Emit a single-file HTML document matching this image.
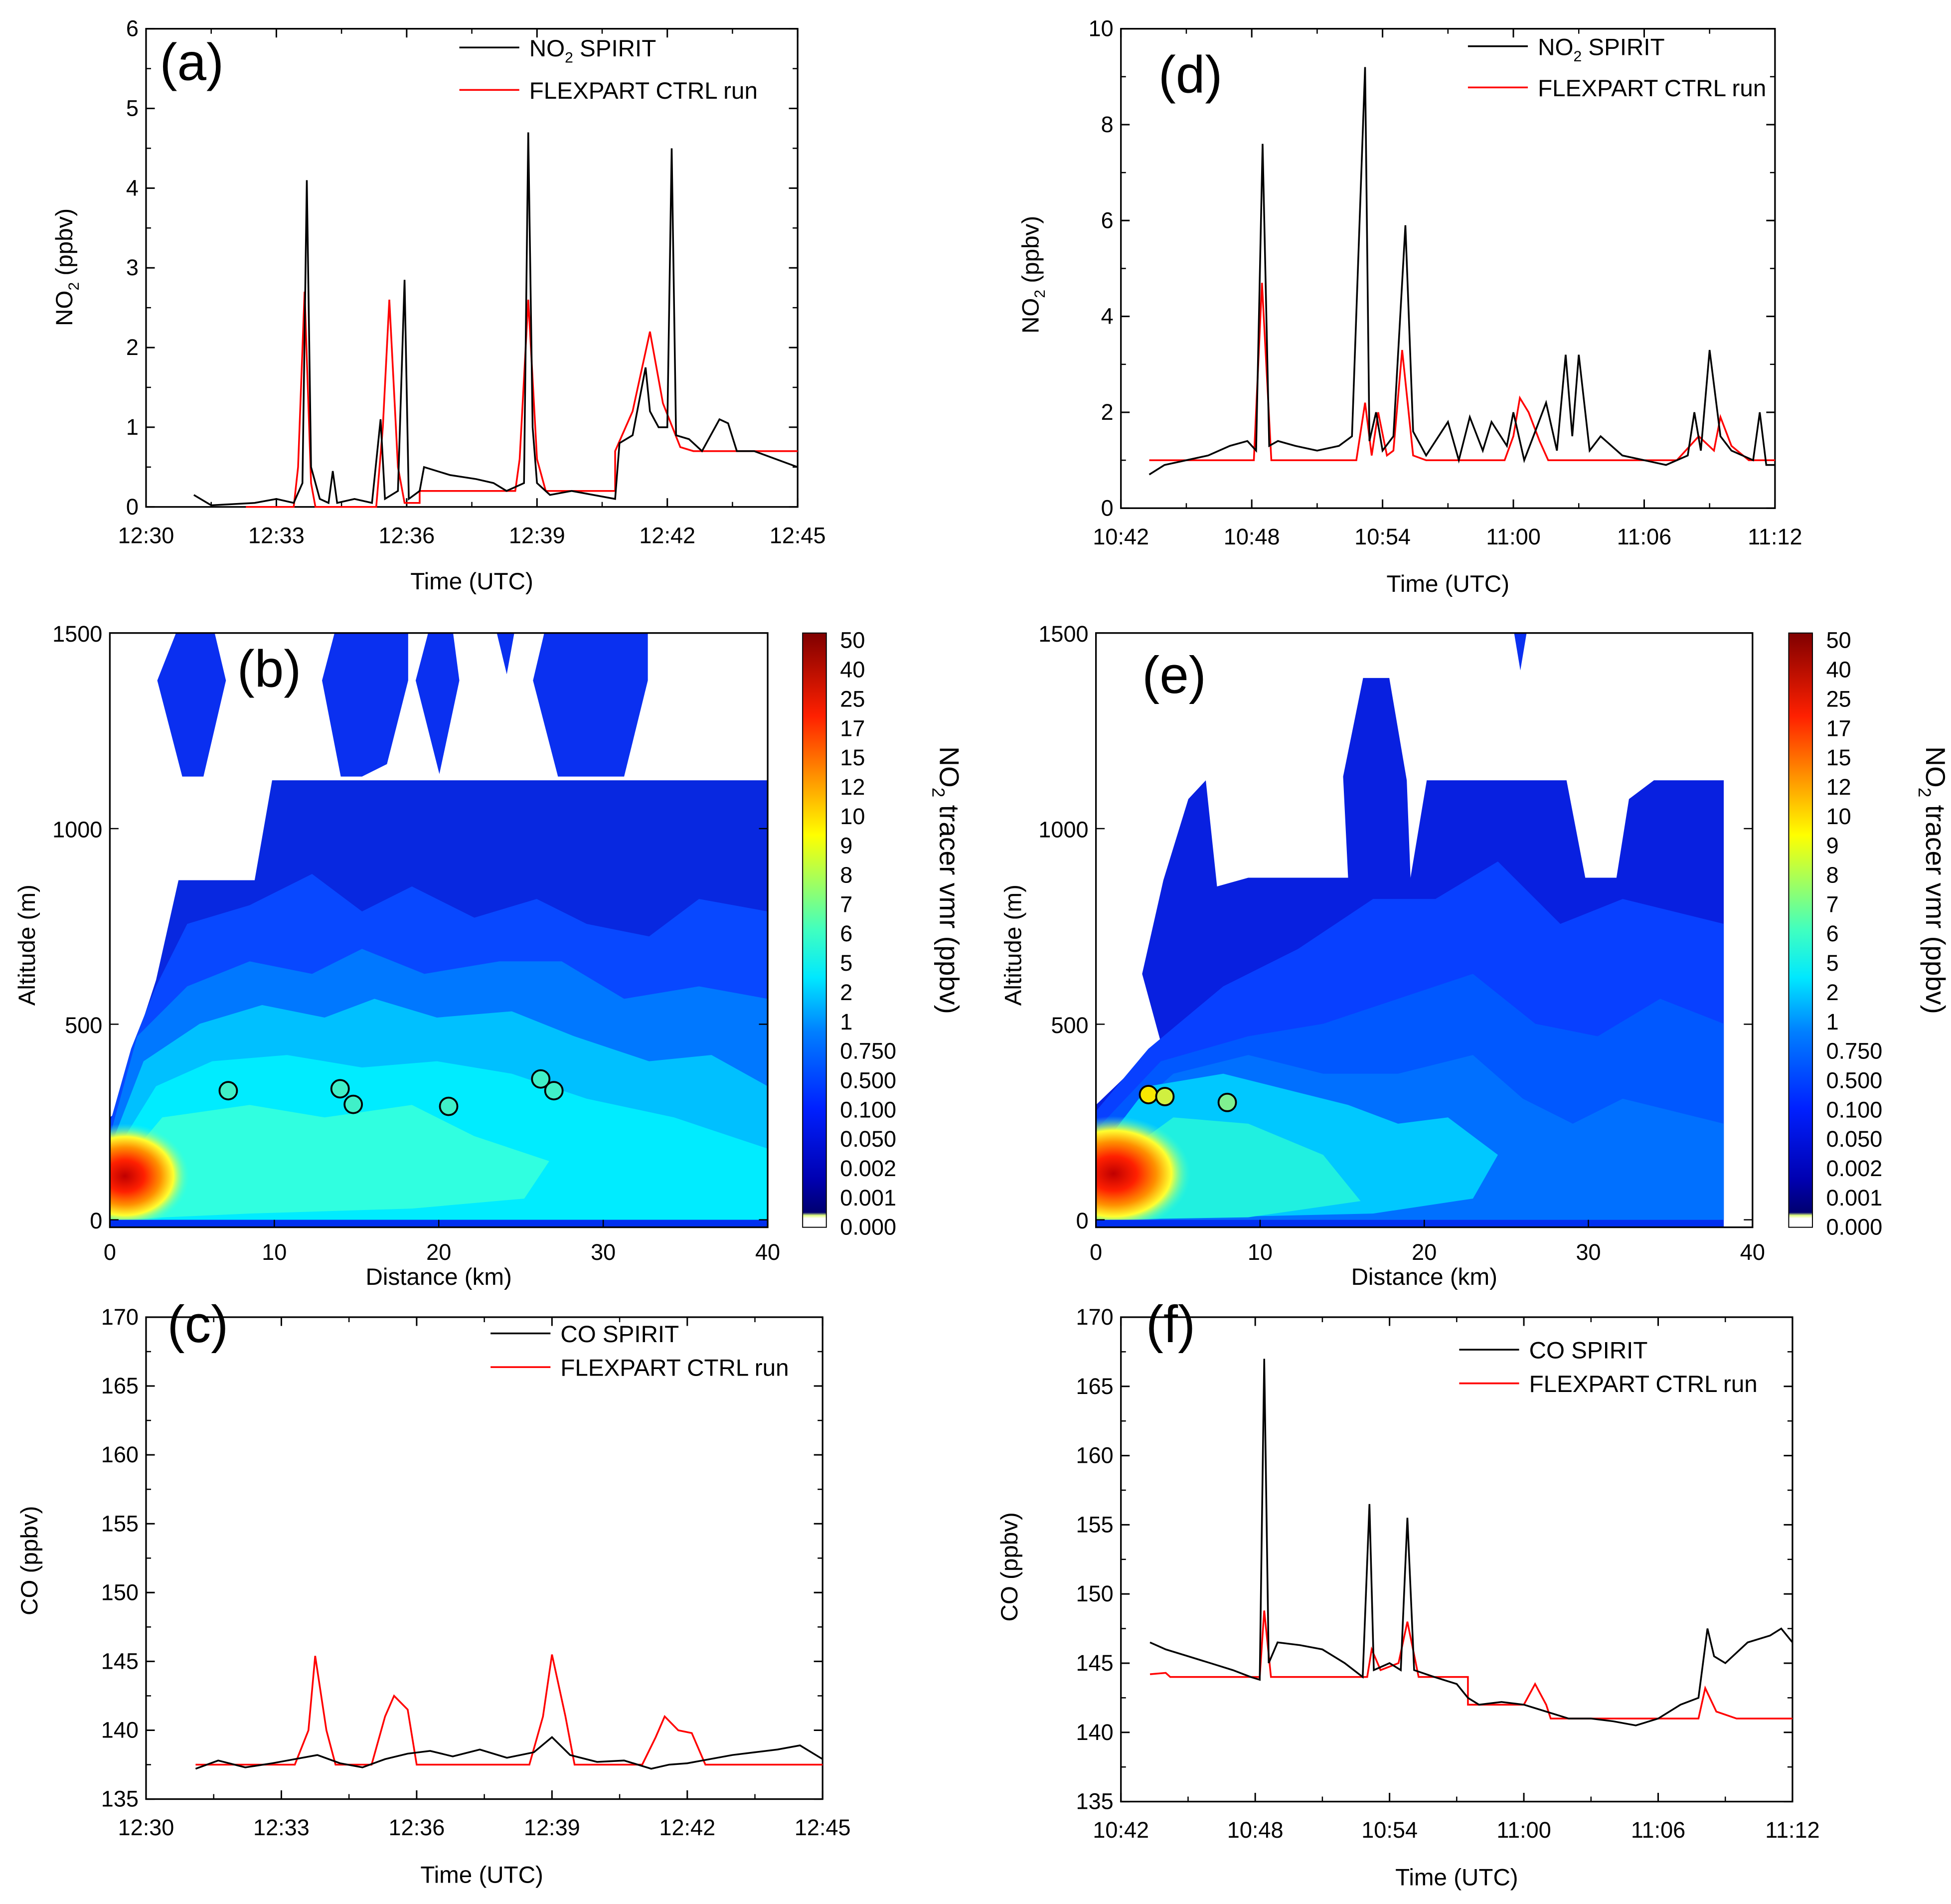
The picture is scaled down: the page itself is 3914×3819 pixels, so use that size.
<!DOCTYPE html>
<html><head><meta charset="utf-8">
<style>
html,body{margin:0;padding:0;background:#fff}
svg{display:block}
text{font-family:"Liberation Sans","DejaVu Sans",sans-serif;fill:#000}
</style></head>
<body>
<svg id="root" xmlns="http://www.w3.org/2000/svg" width="3914" height="3819" viewBox="0 0 1563 1525">
<defs>
<linearGradient id="cbar" x1="0" y1="1" x2="0" y2="0">
<stop offset="0" stop-color="#ffffff"/><stop offset="0.015" stop-color="#ffffff"/>
<stop offset="0.02" stop-color="#e0ff80"/><stop offset="0.025" stop-color="#000070"/>
<stop offset="0.08" stop-color="#0000b0"/><stop offset="0.2" stop-color="#0020ff"/>
<stop offset="0.33" stop-color="#0080ff"/><stop offset="0.42" stop-color="#00e8ff"/>
<stop offset="0.5" stop-color="#40ffc0"/><stop offset="0.58" stop-color="#a0ff60"/>
<stop offset="0.66" stop-color="#ffff00"/><stop offset="0.76" stop-color="#ff9000"/>
<stop offset="0.86" stop-color="#ff2000"/><stop offset="1" stop-color="#800000"/>
</linearGradient>
<radialGradient id="hot">
<stop offset="0" stop-color="#c00000"/><stop offset="0.3" stop-color="#ff2000"/>
<stop offset="0.55" stop-color="#ff9000"/><stop offset="0.75" stop-color="#ffff30"/>
<stop offset="1" stop-color="#40ffd0" stop-opacity="0"/>
</radialGradient>
<clipPath id="clipB"><rect x="88" y="507" width="527" height="476"/></clipPath>
<clipPath id="clipE"><rect x="878" y="507" width="503" height="476"/></clipPath>
</defs>
</svg>
<script>
// ---------- data ----------
const aSpiritT=[1.1,1.5,2.5,3.0,3.4,3.6,3.7,3.8,4.0,4.2,4.3,4.4,4.8,5.2,5.4,5.5,5.8,5.95,6.05,6.3,6.4,7,7.6,8,8.3,8.7,8.8,8.9,9.0,9.3,9.8,10.3,10.8,10.9,11.2,11.5,11.6,11.8,12.0,12.1,12.2,12.5,12.8,13.2,13.4,13.6,14,14.5,15];
const aSpiritV=[0.15,0.02,0.05,0.1,0.05,0.3,4.1,0.5,0.1,0.05,0.45,0.05,0.1,0.05,1.1,0.1,0.2,2.85,0.1,0.2,0.5,0.4,0.35,0.3,0.2,0.3,4.7,1.0,0.3,0.15,0.2,0.15,0.1,0.8,0.9,1.75,1.2,1.0,1.0,4.5,0.9,0.85,0.7,1.1,1.05,0.7,0.7,0.6,0.5];
const aFlexT=[2.3,3.4,3.5,3.65,3.8,3.9,5.3,5.45,5.6,5.8,5.95,6.3,6.3,8.5,8.6,8.8,9.0,9.2,10.8,10.8,11.2,11.6,11.9,12.3,12.6,15];
const aFlexV=[0,0,0.5,2.7,0.3,0,0,1.0,2.6,0.5,0.05,0.05,0.2,0.2,0.6,2.6,0.6,0.2,0.2,0.7,1.2,2.2,1.3,0.75,0.7,0.7];
const dSpiritT=[1.3,2,3,4,5,5.8,6.2,6.5,6.8,7.2,8,9,10,10.6,11.2,11.4,11.7,12,12.5,13.05,13.4,14,15,15.5,16,16.6,17,17.7,18,18.5,19,19.5,20,20.4,20.7,21,21.5,22,23,24,25,26,26.3,26.6,27,27.5,28,29,29.3,29.6,30];
const dSpiritV=[0.7,0.9,1.0,1.1,1.3,1.4,1.2,7.6,1.3,1.4,1.3,1.2,1.3,1.5,9.2,1.4,2.0,1.2,1.5,5.9,1.6,1.1,1.8,1.0,1.9,1.2,1.8,1.3,2.0,1.0,1.6,2.2,1.2,3.2,1.5,3.2,1.2,1.5,1.1,1.0,0.9,1.1,2.0,1.2,3.3,1.5,1.2,1.0,2.0,0.9,0.9];
const dFlexT=[1.3,6.1,6.47,6.9,10.8,11.2,11.5,11.8,12.2,12.5,12.9,13.4,14,17.6,18.0,18.3,18.7,19.2,19.6,20.2,25.5,26.5,27.2,27.5,28,28.8,30];
const dFlexV=[1.0,1.0,4.7,1.0,1.0,2.2,1.1,2.0,1.1,1.2,3.3,1.1,1.0,1.0,1.5,2.3,2.0,1.4,1.0,1.0,1.0,1.5,1.2,1.9,1.3,1.0,1.0];
const cSpiritT=[1.1,1.6,2.2,2.8,3.3,3.8,4.3,4.8,5.3,5.8,6.3,6.8,7.4,8,8.6,9.0,9.4,10,10.6,11.2,11.6,12,12.5,13,13.5,14,14.5,15];
const cSpiritV=[137.2,137.8,137.3,137.6,137.9,138.2,137.6,137.3,137.9,138.3,138.5,138.1,138.6,138.0,138.4,139.5,138.2,137.7,137.8,137.2,137.5,137.6,137.9,138.2,138.4,138.6,138.9,137.9];
const cFlexT=[1.1,3.3,3.6,3.75,4.0,4.2,5.0,5.3,5.5,5.8,6.0,8.5,8.8,9.0,9.3,9.5,11.0,11.3,11.5,11.8,12.1,12.4,15];
const cFlexV=[137.5,137.5,140,145.4,140,137.5,137.5,141,142.5,141.5,137.5,137.5,141,145.5,141,137.5,137.5,139.5,141,140,139.8,137.5,137.5];
const fSpiritT=[1.3,2,3,4,5,5.8,6.2,6.4,6.6,7,8,9,10,10.8,11.1,11.3,12,12.5,12.8,13.1,14,15,15.5,16,17,18,19,20,21,22,23,24,25,25.8,26.2,26.5,27,28,29,29.5,30];
const fSpiritV=[146.5,146,145.5,145,144.5,144,143.8,167,145,146.5,146.3,146.0,145.0,144,156.5,144.5,145,144.5,155.5,144.5,144,143.5,142.5,142,142.2,142,141.5,141,141,140.8,140.5,141,142,142.5,147.5,145.5,145,146.5,147,147.5,146.5];
const fFlexT=[1.3,2,2.2,6.2,6.4,6.7,11,11.2,11.6,12.4,12.8,13.3,15.5,15.5,18,18.5,19,19.2,25.8,26.1,26.6,27.5,30];
const fFlexV=[144.2,144.3,144,144,148.8,144,144,146,144.5,145,148,144,144,142,142,143.5,142,141,141,143.2,141.5,141,141];
const cbarLabels=["50","40","25","17","15","12","10","9","8","7","6","5","2","1","0.750","0.500","0.100","0.050","0.002","0.001","0.000"];
const bCircleKm=[7.2,14,14.8,20.6,26.2,27];
const bCircleAlt=[330,335,295,290,360,330];
const eCircleKm=[3.2,4.2,8];
const eCircleAlt=[320,315,300];
const eCircleColor=["#f8e800","#d0f040","#80f090"];

// ---------- helpers ----------
const NS="http://www.w3.org/2000/svg";
const root=document.getElementById('root');
function el(tag,attrs,parent,txt){const e=document.createElementNS(NS,tag);for(const k in attrs)e.setAttribute(k,attrs[k]);if(txt!==undefined)e.textContent=txt;(parent||root).appendChild(e);return e;}
function group(name){const g=el('g',{},root);return g;}
function scale(d0,d1,r0,r1){return v=>r0+(v-d0)*(r1-r0)/(d1-d0);}

function axes(g,X,Y,x0,x1,y0,y1,xt,xl,yt,yl,minorX,minorY){
  const f=el('rect',{x:x0,y:y1,width:x1-x0,height:y0-y1,fill:'none',stroke:'#000','stroke-width':1.3},g);
  
  xt.forEach((v,i)=>{const x=X(v);el('line',{x1:x,x2:x,y1:y0,y2:y0-7,stroke:'#000','stroke-width':1.2},g);el('line',{x1:x,x2:x,y1:y1,y2:y1+7,stroke:'#000','stroke-width':1.2},g);
    const t=el('text',{x:x,y:y0+29,'font-size':18,'text-anchor':'middle'},g,xl[i]);});
  (minorX||[]).forEach(v=>{const x=X(v);el('line',{x1:x,x2:x,y1:y0,y2:y0-4,stroke:'#000'},g);el('line',{x1:x,x2:x,y1:y1,y2:y1+4,stroke:'#000'},g);});
  yt.forEach((v,i)=>{const y=Y(v);el('line',{x1:x0,x2:x0+7,y1:y,y2:y,stroke:'#000','stroke-width':1.2},g);el('line',{x1:x1,x2:x1-7,y1:y,y2:y,stroke:'#000','stroke-width':1.2},g);
    const t=el('text',{x:x0-6,y:y+6,'font-size':18,'text-anchor':'end'},g,yl[i]);});
  (minorY||[]).forEach(v=>{const y=Y(v);el('line',{x1:x0,x2:x0+4,y1:y,y2:y,stroke:'#000'},g);el('line',{x1:x1,x2:x1-4,y1:y,y2:y,stroke:'#000'},g);});
}
function line(g,X,Y,ts,vs,color,name){
  const p=el('polyline',{points:ts.map((t,i)=>X(t).toFixed(1)+','+Y(vs[i]).toFixed(1)).join(' '),fill:'none',stroke:color,'stroke-width':1.4},g);
  
}
function label(g,x,y,size,txt,name,anchor,rot){
  const a={x:x,y:y,'font-size':size,'text-anchor':anchor||'start'};
  if(rot)a.transform='rotate('+rot+' '+x+' '+y+')';
  const t=el('text',a,g,txt);return t;
}
function legend(g,x,y,sp,lab1,sub,lab1b,lab2){
  el('line',{x1:x,x2:x+48,y1:y,y2:y,stroke:'#000','stroke-width':1.4},g);
  const t=el('text',{x:x+56,y:y+7,'font-size':19},g);
  t.appendChild(document.createTextNode(lab1));
  if(sub){el('tspan',{'font-size':12,dy:5},t,sub);el('tspan',{dy:-5},t,lab1b);}
  el('line',{x1:x,x2:x+48,y1:y+sp,y2:y+sp,stroke:'#f00','stroke-width':1.4},g);
  label(g,x+56,y+sp+7,19,lab2,'legend-entry-flexpart');
}
function ytitleNO2(g,x,y){
  const t=el('text',{x:x,y:y,'font-size':19,'text-anchor':'middle',transform:'rotate(-90 '+x+' '+y+')'},g);
  
  t.appendChild(document.createTextNode('NO'));el('tspan',{'font-size':12,dy:5},t,'2');el('tspan',{dy:-5},t,' (ppbv)');
}

// ---------- panel a ----------
(function(){
  const g=group('panel-a');
  const X=scale(0,15,117,639),Y=scale(0,6,406,23);
  axes(g,X,Y,117,639,406,23,[0,3,6,9,12,15],["12:30","12:33","12:36","12:39","12:42","12:45"],[0,1,2,3,4,5,6],["0","1","2","3","4","5","6"],[1.5,4.5,7.5,10.5,13.5],[0.5,1.5,2.5,3.5,4.5,5.5]);
  line(g,X,Y,aFlexT,aFlexV,'#f00','flexpart-line');
  line(g,X,Y,aSpiritT,aSpiritV,'#000','spirit-no2-line');
  legend(g,368,38,34,'NO','2',' SPIRIT','FLEXPART CTRL run');
  label(g,128,64,42,'(a)','panel-label');
  label(g,378,472,19,'Time (UTC)','x-axis-title','middle');
  ytitleNO2(g,58,214);
})();
// ---------- panel d ----------
(function(){
  const g=group('panel-d');
  const X=scale(0,30,898,1422),Y=scale(0,10,407,23);
  axes(g,X,Y,898,1422,407,23,[0,6,12,18,24,30],["10:42","10:48","10:54","11:00","11:06","11:12"],[0,2,4,6,8,10],["0","2","4","6","8","10"],[3,9,15,21,27],[1,3,5,7,9]);
  line(g,X,Y,dFlexT,dFlexV,'#f00','flexpart-line');
  line(g,X,Y,dSpiritT,dSpiritV,'#000','spirit-no2-line');
  legend(g,1176,37,33,'NO','2',' SPIRIT','FLEXPART CTRL run');
  label(g,928,74,42,'(d)','panel-label');
  label(g,1160,474,19,'Time (UTC)','x-axis-title','middle');
  ytitleNO2(g,832,220);
})();
// ---------- panel c ----------
(function(){
  const g=group('panel-c');
  const X=scale(0,15,117,659),Y=scale(135,170,1441,1055);
  axes(g,X,Y,117,659,1441,1055,[0,3,6,9,12,15],["12:30","12:33","12:36","12:39","12:42","12:45"],[135,140,145,150,155,160,165,170],["135","140","145","150","155","160","165","170"],[1.5,4.5,7.5,10.5,13.5],[137.5,142.5,147.5,152.5,157.5,162.5,167.5]);
  line(g,X,Y,cFlexT,cFlexV,'#f00','flexpart-line');
  line(g,X,Y,cSpiritT,cSpiritV,'#000','spirit-co-line');
  legend(g,393,1068,27,'CO SPIRIT',null,null,'FLEXPART CTRL run');
  label(g,134,1075,42,'(c)','panel-label');
  label(g,386,1508,19,'Time (UTC)','x-axis-title','middle');
  label(g,30,1250,19,'CO (ppbv)','y-axis-title','middle',-90);
})();
// ---------- panel f ----------
(function(){
  const g=group('panel-f');
  const X=scale(0,30,898,1436),Y=scale(135,170,1443,1055);
  axes(g,X,Y,898,1436,1443,1055,[0,6,12,18,24,30],["10:42","10:48","10:54","11:00","11:06","11:12"],[135,140,145,150,155,160,165,170],["135","140","145","150","155","160","165","170"],[3,9,15,21,27],[137.5,142.5,147.5,152.5,157.5,162.5,167.5]);
  line(g,X,Y,fFlexT,fFlexV,'#f00','flexpart-line');
  line(g,X,Y,fSpiritT,fSpiritV,'#000','spirit-co-line');
  legend(g,1169,1081,27,'CO SPIRIT',null,null,'FLEXPART CTRL run');
  label(g,918,1075,42,'(f)','panel-label');
  label(g,1167,1510,19,'Time (UTC)','x-axis-title','middle');
  label(g,815,1255,19,'CO (ppbv)','y-axis-title','middle',-90);
})();

// ---------- contour panels ----------
function poly(g,pts,fill,name){const p=el('polygon',{points:pts,fill:fill},g);}
function colorbar(g,x,y0,y1){
  const r=el('rect',{x:x,y:y1,width:19,height:y0-y1,fill:'url(#cbar)',stroke:'#000','stroke-width':0.8},g);
  
  const n=cbarLabels.length;
  cbarLabels.forEach((s,i)=>{const y=y1+6+i*(y0-y1-6)/(n-1);label(g,x+30,y+6,18,s,'colorbar-tick-label');});
  const tx=x+110,ty=(y0+y1)/2-40;
  const t=el('text',{x:tx,y:ty,'font-size':22,'text-anchor':'middle',transform:'rotate(90 '+tx+' '+ty+')'},g);
  
  t.appendChild(document.createTextNode('NO'));el('tspan',{'font-size':14,dy:6},t,'2');el('tspan',{dy:-6},t,' tracer vmr (ppbv)');
}
function contourAxes(g,X0,X1,Y0,Y1){
  const X=scale(0,40,X0,X1),Y=scale(0,1500,Y0,Y1);
  const f=el('rect',{x:X0,y:Y1,width:X1-X0,height:Y0+6-Y1,fill:'none',stroke:'#000','stroke-width':1.3},g);
  
  [0,10,20,30,40].forEach(v=>{const x=X(v);el('line',{x1:x,x2:x,y1:Y0+6,y2:Y0,stroke:'#000'},g);label(g,x,Y0+32,18,String(v),'x-tick-label','middle');});
  [0,500,1000,1500].forEach(v=>{const y=Y(v);el('line',{x1:X0,x2:X0+7,y1:y,y2:y,stroke:'#000'},g);el('line',{x1:X1,x2:X1-7,y1:y,y2:y,stroke:'#000'},g);label(g,X0-6,y+7,18,String(v),'y-tick-label','end');});
  label(g,(X0+X1)/2,Y0+52,19,'Distance (km)','x-axis-title','middle');
  label(g,X0-60,(Y0+Y1)/2+15,19,'Altitude (m)','y-axis-title','middle',-90);
  return {X,Y};
}
(function(){
  const g=group('panel-b');
  const c=el('g',{'clip-path':'url(#clipB)'},g);
  poly(c,"88,895 107,880 107,840 125,785 143,705 204,705 218,625 615,625 615,977 88,977",'#0828e0','contour-outer');
  poly(c,"126,545 141,507 172,507 181,545 163,622 146,622",'#0a2ff0','contour-top-blob');
  poly(c,"258,545 268,507 327,507 327,545 310,612 290,622 273,622",'#0a30f0','contour-top-blob');
  poly(c,"333,545 343,507 363,507 368,545 352,620",'#0a30f0','contour-top-blob');
  poly(c,"398,507 406,540 412,507",'#0a30f0','contour-top-blob');
  poly(c,"427,545 436,507 519,507 519,545 500,622 447,622",'#0a30f0','contour-top-blob');
  poly(c,"88,900 105,840 125,790 150,740 200,725 250,700 290,730 330,710 380,735 430,720 470,740 520,750 560,720 615,730 615,977 88,977",'#0848ff','contour-mid');
  poly(c,"88,910 110,830 150,790 200,770 250,780 290,760 340,780 400,770 450,770 500,800 560,790 615,800 615,977 88,977",'#0078ff','contour-light');
  poly(c,"88,920 115,850 160,820 210,805 260,815 300,800 350,815 410,810 460,830 520,850 570,845 615,870 615,977 88,977",'#00c0ff','contour-lightcyan');
  poly(c,"88,930 125,870 170,850 230,845 290,855 350,850 410,860 470,880 540,895 615,920 615,977 88,977",'#00ecff','contour-cyan');
  poly(c,"88,945 130,895 200,885 260,895 330,885 380,910 440,930 420,960 330,968 200,972 88,977",'#30ffe0','contour-aqua');
  const h=el('ellipse',{cx:100,cy:942,rx:52,ry:42,fill:'url(#hot)'},c);
  el('rect',{x:88,y:977,width:527,height:6,fill:'#0030f0'},c);
  const A=contourAxes(g,88,615,977,507);
  bCircleKm.forEach((k,i)=>{const ci=el('circle',{cx:A.X(k),cy:A.Y(bCircleAlt[i]),r:7,fill:'#40f0c8',stroke:'#000','stroke-width':1.5},g);});
  label(g,190,550,42,'(b)','panel-label');
  colorbar(g,643,983,507);
})();
(function(){
  const g=group('panel-e');
  const c=el('g',{'clip-path':'url(#clipE)'},g);
  poly(c,"878,885 930,835 915,780 932,705 952,640 966,625 975,710 1000,703 1080,703 1076,622 1092,543 1113,543 1127,625 1130,703 1143,625 1255,625 1270,703 1295,703 1305,640 1325,625 1381,625 1381,977 878,977",'#0820e0','contour-outer');
  poly(c,"1213,507 1218,537 1223,507",'#0a30f0','contour-top-blob');
  poly(c,"878,890 920,840 980,790 1040,760 1100,720 1150,720 1200,690 1250,740 1300,720 1381,740 1381,977 878,977",'#0840ff','contour-mid');
  poly(c,"878,905 930,850 1000,830 1060,820 1120,800 1180,780 1230,820 1280,830 1330,800 1381,820 1381,977 878,977",'#0058ff','contour-mid2');
  poly(c,"878,915 940,860 1000,845 1060,860 1120,860 1180,845 1220,880 1260,900 1300,880 1381,900 1381,977 878,977",'#0070ff','contour-light');
  poly(c,"878,925 920,870 980,860 1040,875 1080,885 1120,900 1160,895 1200,925 1180,960 1100,972 878,977",'#00c8ff','contour-cyan');
  poly(c,"878,940 940,895 1000,900 1060,925 1090,962 1000,975 878,977",'#20f0e0','contour-aqua');
  const h=el('ellipse',{cx:892,cy:940,rx:62,ry:46,fill:'url(#hot)'},c);
  el('rect',{x:878,y:977,width:503,height:6,fill:'#0030f0'},c);
  const A=contourAxes(g,878,1404,977,507);
  eCircleKm.forEach((k,i)=>{const ci=el('circle',{cx:A.X(k),cy:A.Y(eCircleAlt[i]),r:7,fill:eCircleColor[i],stroke:'#000','stroke-width':1.5},g);});
  label(g,915,555,42,'(e)','panel-label');
  colorbar(g,1433,983,507);
})();
</script>
</body></html>
